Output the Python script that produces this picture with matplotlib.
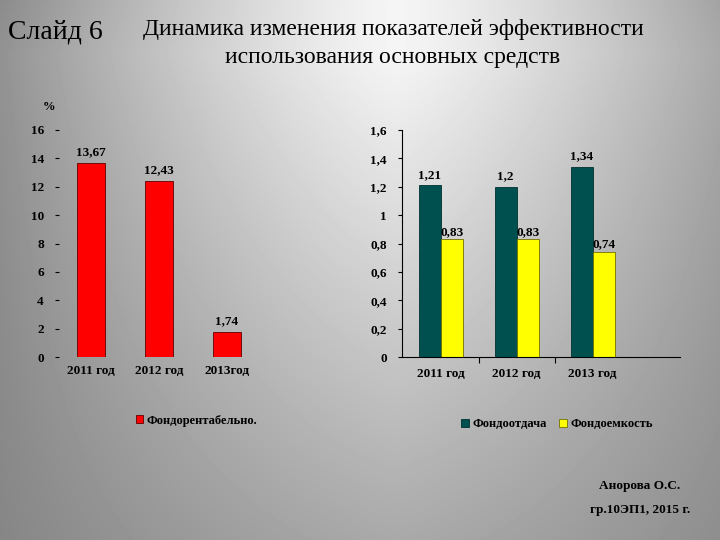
import numpy as np
import matplotlib.pyplot as plt
from matplotlib.ticker import FuncFormatter

years_left = ['2011 год', '2012 год', '2013год']
rent = [13.67, 12.43, 1.74]              # Фондорентабельность, %
years_right = ['2011 год', '2012 год', '2013 год']
otdacha = [1.21, 1.2, 1.34]              # Фондоотдача
emkost = [0.83, 0.83, 0.74]              # Фондоемкость

serif = 'Liberation Serif'
W, H = 720, 540


def comma(v, pos=None):
    return f'{v:g}'.replace('.', ',')


fig = plt.figure(figsize=(7.2, 5.4), dpi=100)

# gray gradient background, light at top centre
bg = fig.add_axes([0, 0, 1, 1], zorder=-10)
yy, xx = np.mgrid[0:1:270j, 0:1:360j]
dx = np.abs(xx - 0.55) ** 1.3
shade = 0.96 - 0.75 * dx * (1.2 - 0.8 * yy) - 0.33 * np.clip(yy - 0.1, 0, None)
bg.imshow(shade, cmap='gray', vmin=0, vmax=1, aspect='auto', extent=[0, 1, 1, 0])
bg.set_xlim(0, 1)
bg.set_ylim(1, 0)
bg.axis('off')

fig.text(8 / W, 1 - 32 / H, 'Слайд 6', family=serif, fontsize=20, va='center')
fig.text(393 / W, 1 - 30 / H, 'Динамика изменения показателей эффективности',
         family=serif, fontsize=17, ha='center', va='center')
fig.text(393 / W, 1 - 58 / H, 'использования основных средств',
         family=serif, fontsize=17, ha='center', va='center')
fig.text(640 / W, 1 - 486 / H, 'Анорова О.С.', family=serif, fontsize=9.5,
         fontweight='bold', ha='center', va='center')
fig.text(640 / W, 1 - 510 / H, 'гр.10ЭП1, 2015 г.', family=serif, fontsize=9.5,
         fontweight='bold', ha='center', va='center')

# left chart
ax1 = fig.add_axes([55 / W, 1 - 357 / H, 205 / W, 227 / H])
ax1.patch.set_alpha(0)
x1 = np.arange(len(years_left))
ax1.bar(x1, rent, width=0.41, color='#ff0000', edgecolor='#600000',
        linewidth=0.6, label='Фондорентабельно.')
for xi, v in zip(x1, rent):
    ax1.text(xi, v + 0.35, comma(v), ha='center', va='bottom', family=serif,
             fontweight='bold', fontsize=9.5)
ax1.set_xlim(-0.53, 2.49)
ax1.set_ylim(0, 16)
ax1.set_yticks(range(0, 17, 2))
ax1.set_xticks(x1, years_left)
for s in ax1.spines.values():
    s.set_visible(False)
ax1.tick_params(axis='y', length=3, pad=8, width=0.8, direction='in')
ax1.tick_params(axis='x', length=0, pad=6)
for lab in ax1.get_xticklabels() + ax1.get_yticklabels():
    lab.set_family(serif)
    lab.set_fontweight('bold')
    lab.set_fontsize(9.5)
ax1.text(-0.62, 17.6, '%', family=serif, fontweight='bold', fontsize=9,
         ha='center', va='center')
ax1.legend(loc='center', bbox_to_anchor=(0.69, -0.28), frameon=False,
           handlelength=0.6, handleheight=0.6, handletextpad=0.3,
           prop={'family': serif, 'weight': 'bold', 'size': 9})

# right chart
ax2 = fig.add_axes([402 / W, 1 - 357 / H, 278 / W, 227 / H])
ax2.patch.set_alpha(0)
x2 = np.arange(len(years_right))
bw = 0.29
ax2.bar(x2 - bw / 2, otdacha, width=bw, color='#005050', edgecolor='#003030',
        linewidth=0.6, label='Фондоотдача')
ax2.bar(x2 + bw / 2, emkost, width=bw, color='#ffff00', edgecolor='#707000',
        linewidth=0.6, label='Фондоемкость')
for xi, v in zip(x2, otdacha):
    ax2.text(xi - bw / 2, v + 0.03, comma(v), ha='center', va='bottom',
             family=serif, fontweight='bold', fontsize=9.5)
for xi, v in zip(x2, emkost):
    ax2.text(xi + bw / 2, v + 0.01, comma(v), ha='center', va='bottom',
             family=serif, fontweight='bold', fontsize=9.5)
ax2.set_xlim(-0.51, 3.15)
ax2.set_ylim(0, 1.6)
ax2.set_yticks(np.arange(0, 1.61, 0.2))
ax2.yaxis.set_major_formatter(FuncFormatter(comma))
ax2.set_xticks(x2, years_right)
ax2.set_xticks([0.5, 1.5], minor=True)
for s in ['top', 'right']:
    ax2.spines[s].set_visible(False)
ax2.spines['left'].set_linewidth(0.8)
ax2.spines['bottom'].set_linewidth(0.8)
ax2.tick_params(axis='y', length=3, pad=8, width=0.8)
ax2.tick_params(axis='x', which='major', length=0, pad=8)
ax2.tick_params(axis='x', which='minor', length=4, width=0.8)
for lab in ax2.get_xticklabels() + ax2.get_yticklabels():
    lab.set_family(serif)
    lab.set_fontweight('bold')
    lab.set_fontsize(9.5)
ax2.legend(loc='center', bbox_to_anchor=(155 / 278, -0.295), ncol=2,
           frameon=False, handlelength=0.6, handleheight=0.6,
           handletextpad=0.3, columnspacing=1.0,
           prop={'family': serif, 'weight': 'bold', 'size': 9})

fig.savefig('out.png', dpi=100)
